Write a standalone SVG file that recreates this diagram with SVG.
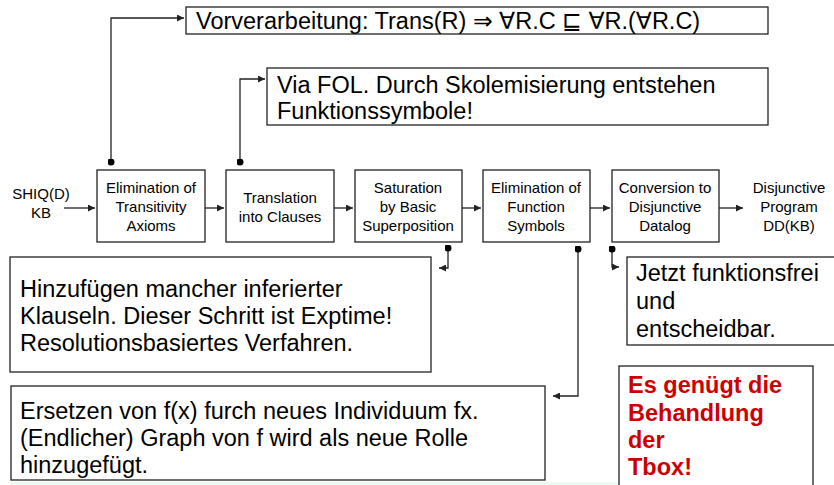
<svg xmlns="http://www.w3.org/2000/svg" width="834" height="485" viewBox="0 0 834 485">
<defs>
<style>
.t{font-family:"Liberation Sans",Arial,"DejaVu Sans",sans-serif;fill:#000}
.s{font-size:15px;text-anchor:middle}
.b{font-size:23.5px}
.r{font-size:23.5px;font-weight:bold;fill:#cc0000}
.box{fill:#fff;stroke:#222;stroke-width:1.3}
.c{fill:none;stroke:#222;stroke-width:1.3}
</style>
<marker id="a" viewBox="0 0 10 10" refX="10" refY="5" markerWidth="7" markerHeight="7" orient="auto" markerUnits="userSpaceOnUse"><path d="M0,0 L10,5 L0,10 z" fill="#222"/></marker>
<marker id="d" viewBox="0 0 10 10" refX="5" refY="5" markerWidth="7" markerHeight="7" markerUnits="userSpaceOnUse"><circle cx="5" cy="5" r="5" fill="#000"/></marker>
</defs>
<rect x="10" y="482" width="772" height="3" fill="#e9fcef"/>
<g id="connectors">
<path class="c" d="M111,162 V18 H184" marker-start="url(#d)" marker-end="url(#a)"/>
<path class="c" d="M240,162 V79 H265" marker-start="url(#d)" marker-end="url(#a)"/>
<path class="c" d="M64,208 H95" marker-end="url(#a)"/>
<path class="c" d="M205,208 H224" marker-end="url(#a)"/>
<path class="c" d="M334,208 H353" marker-end="url(#a)"/>
<path class="c" d="M462,208 H481" marker-end="url(#a)"/>
<path class="c" d="M590,208 H610" marker-end="url(#a)"/>
<path class="c" d="M719,208 H743" marker-end="url(#a)"/>
<path class="c" d="M448,248 V268 H439" marker-start="url(#d)" marker-end="url(#a)"/>
<path class="c" d="M578,249 V396 H553" marker-start="url(#d)" marker-end="url(#a)"/>
<path class="c" d="M612,249 V267 H619" marker-start="url(#d)" marker-end="url(#a)"/>
</g>
<g id="note-vorverarbeitung">
<rect class="box" x="186" y="7" width="582" height="27"/>
<text class="t" x="196" y="29" font-size="23.5">Vorverarbeitung: Trans(R) ⇒ ∀R.C ⊑ ∀R.(∀R.C)</text>
</g>
<g id="note-fol">
<rect class="box" x="267" y="68" width="501" height="57"/>
<text class="t" x="277" y="93" font-size="23.5">Via FOL. Durch Skolemisierung entstehen</text>
<text class="t" x="277" y="119" font-size="23.5">Funktionssymbole!</text>
</g>
<g id="input">
<text class="t s" x="41" y="199" font-size="16">SHIQ(D)</text>
<text class="t s" x="41" y="218" font-size="16">KB</text>
</g>
<g id="step1">
<rect class="box" x="97" y="170" width="108" height="72"/>
<text class="t s" x="151" y="193">Elimination of</text>
<text class="t s" x="151" y="212">Transitivity</text>
<text class="t s" x="151" y="231">Axioms</text>
</g>
<g id="step2">
<rect class="box" x="226" y="170" width="108" height="72"/>
<text class="t s" x="280" y="203">Translation</text>
<text class="t s" x="280" y="222">into Clauses</text>
</g>
<g id="step3">
<rect class="box" x="355" y="170" width="107" height="72"/>
<text class="t s" x="408" y="193">Saturation</text>
<text class="t s" x="408" y="212">by Basic</text>
<text class="t s" x="408" y="231">Superposition</text>
</g>
<g id="step4">
<rect class="box" x="483" y="170" width="107" height="72"/>
<text class="t s" x="536" y="193">Elimination of</text>
<text class="t s" x="536" y="212">Function</text>
<text class="t s" x="536" y="231">Symbols</text>
</g>
<g id="step5">
<rect class="box" x="612" y="170" width="107" height="72"/>
<text class="t s" x="665" y="193">Conversion to</text>
<text class="t s" x="665" y="212">Disjunctive</text>
<text class="t s" x="665" y="231">Datalog</text>
</g>
<g id="output">
<text class="t s" x="789" y="193">Disjunctive</text>
<text class="t s" x="789" y="212">Program</text>
<text class="t s" x="789" y="231">DD(KB)</text>
</g>
<g id="note-saturation">
<rect class="box" x="10" y="257" width="421" height="115"/>
<text class="t b" x="20" y="297">Hinzufügen mancher inferierter</text>
<text class="t b" x="20" y="324">Klauseln. Dieser Schritt ist Exptime!</text>
<text class="t b" x="20" y="351">Resolutionsbasiertes Verfahren.</text>
</g>
<g id="note-ersetzen">
<rect class="box" x="11" y="386" width="534" height="94"/>
<text class="t b" x="20" y="419">Ersetzen von f(x) furch neues Individuum fx.</text>
<text class="t b" x="20" y="446">(Endlicher) Graph von f wird als neue Rolle</text>
<text class="t b" x="20" y="473">hinzugefügt.</text>
</g>
<g id="note-jetzt">
<rect class="box" x="627" y="257" width="220" height="88"/>
<text class="t b" x="636" y="281">Jetzt funktionsfrei</text>
<text class="t b" x="636" y="309">und</text>
<text class="t b" x="636" y="337">entscheidbar.</text>
</g>
<g id="note-tbox">
<rect class="box" x="619" y="366" width="194" height="130"/>
<text class="t r" x="628" y="393">Es genügt die</text>
<text class="t r" x="628" y="421">Behandlung</text>
<text class="t r" x="628" y="448">der</text>
<text class="t r" x="628" y="475">Tbox!</text>
</g>
</svg>
